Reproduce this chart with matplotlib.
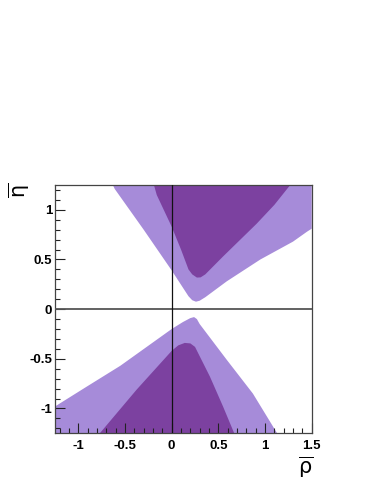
import matplotlib
matplotlib.use("Agg")
import matplotlib.pyplot as plt
from matplotlib.ticker import MultipleLocator

# Contour outlines (rho-bar, eta-bar)
upper_light_x = [-0.63, -0.61, -0.30, 0.00, 0.18, 0.22, 0.26, 0.30, 0.36, 0.59, 0.95, 1.30, 1.45, 1.50, 1.50]
upper_light_y = [1.25, 1.21, 0.80, 0.39, 0.13, 0.09, 0.075, 0.085, 0.12, 0.28, 0.50, 0.68, 0.78, 0.81, 1.25]

upper_dark_x = [-0.19, -0.16, -0.08, 0.00, 0.10, 0.18, 0.22, 0.27, 0.31, 0.36, 0.55, 0.91, 1.10, 1.27]
upper_dark_y = [1.25, 1.15, 0.99, 0.83, 0.60, 0.40, 0.35, 0.318, 0.32, 0.35, 0.53, 0.86, 1.05, 1.25]

lower_light_x = [-1.25, -1.25, -0.91, -0.55, 0.00, 0.12, 0.20, 0.24, 0.27, 0.30, 0.59, 0.87, 1.13]
lower_light_y = [-1.25, -0.98, -0.78, -0.57, -0.20, -0.13, -0.09, -0.08, -0.10, -0.15, -0.51, -0.85, -1.25]

lower_dark_x = [-0.77, -0.375, 0.00, 0.07, 0.14, 0.20, 0.25, 0.41, 0.55, 0.67]
lower_dark_y = [-1.25, -0.81, -0.42, -0.365, -0.34, -0.345, -0.38, -0.68, -0.98, -1.25]

x_ticks = [-1, -0.5, 0, 0.5, 1, 1.5]
x_tick_labels = ["-1", "-0.5", "0", "0.5", "1", "1.5"]
y_ticks = [-1, -0.5, 0, 0.5, 1]
y_tick_labels = ["-1", "-0.5", "0", "0.5", "1"]

light = "#a68bd9"
dark = "#7c41a0"

plt.rcParams["mathtext.fontset"] = "custom"
plt.rcParams["mathtext.rm"] = "DejaVu Sans"
plt.rcParams["mathtext.it"] = "DejaVu Sans"

fig = plt.figure(figsize=(3.74, 4.84), dpi=100)
ax = fig.add_axes([55/374, 1-433.3/484, (311.7-55)/374, (433.3-185)/484])

ax.fill(upper_light_x, upper_light_y, color=light, lw=0)
ax.fill(upper_dark_x, upper_dark_y, color=dark, lw=0)
ax.fill(lower_light_x, lower_light_y, color=light, lw=0)
ax.fill(lower_dark_x, lower_dark_y, color=dark, lw=0)

ax.axhline(0, color="#555555", lw=1.3, zorder=3)
ax.axvline(0, color="#111111", lw=0.9, zorder=3)

ax.set_xlim(-1.25, 1.5)
ax.set_ylim(-1.25, 1.25)

ax.set_xticks(x_ticks)
ax.set_xticklabels(x_tick_labels)
ax.set_yticks(y_ticks)
ax.set_yticklabels(y_tick_labels)
ax.xaxis.set_minor_locator(MultipleLocator(0.1))
ax.yaxis.set_minor_locator(MultipleLocator(0.1))
ax.tick_params(which="both", direction="in", top=False, right=False, color="#222222", width=0.8)
ax.tick_params(which="major", length=7.5)
ax.tick_params(which="minor", length=3.8)
ax.tick_params(axis="x", pad=5)
ax.tick_params(axis="y", pad=2)
for lab in ax.get_xticklabels() + ax.get_yticklabels():
    lab.set_fontfamily("Liberation Sans")
    lab.set_fontweight("bold")
    lab.set_fontsize(9.5)

for s in ax.spines.values():
    s.set_color("#444444")
    s.set_linewidth(0.9)

fig.text(306/374, 1-467/484, r"$\overline{\mathrm{\rho}}$", fontsize=15, ha="center", va="center")
fig.text(19/374, 1-190/484, r"$\overline{\mathrm{\eta}}$", fontsize=15, ha="center", va="center", rotation=90)

fig.savefig("out.png", dpi=100)
